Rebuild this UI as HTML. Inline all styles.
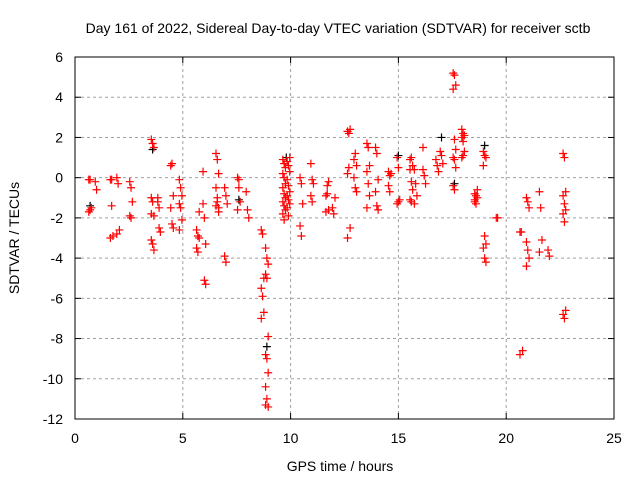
<!DOCTYPE html>
<html><head><meta charset="utf-8"><style>
html,body{margin:0;padding:0;background:#fff;}
svg{display:block;font-family:"Liberation Sans",sans-serif;}
</style></head><body>
<svg id="chart" width="640" height="480">
<text x="338" y="33" font-size="14" text-anchor="middle">Day 161 of 2022, Sidereal Day-to-day VTEC variation (SDTVAR) for receiver sctb</text>
<text x="340" y="471" font-size="14" text-anchor="middle">GPS time / hours</text>
<text transform="translate(19,238) rotate(-90)" font-size="14" text-anchor="middle">SDTVAR / TECUs</text>
<g id="grid"></g><g id="ticks"></g><g id="marks"></g>
<rect x="75" y="57" width="539" height="362" fill="none" stroke="#000" stroke-width="1"/>
</svg>
<script>
const xTicks=[0,5,10,15,20,25];
const yTicks=[6,4,2,0,-2,-4,-6,-8,-10,-12];
const clusterHours=[0.7,1.0,1.7,2.0,2.6,3.6,3.9,4.5,4.9,5.7,6.0,6.6,7.0,7.6,8.0,8.7,8.9,9.7,9.9,10.5,11.0,11.7,12.0,12.7,13.0,13.6,14.0,14.6,15.0,15.6,15.8,16.2,16.8,17.0,17.6,18.0,18.6,19.0,19.6,20.7,21.0,21.6,22.0,22.7];
const clusterValues=[
[-0.1,-0.1,-1.5,-1.7,-1.6],[-0.2,-0.6],[-0.1,-0.1,-2.9,-3.0,-1.4],[0,-0.3,-2.6,-2.8],[-0.2,-0.5,-1.2,-1.9,-2.0],
[1.9,1.7,1.5,-1.0,-1.2,-1.9,-3.1,-3.3,-3.6,-1.8],[-1.2,-2.5,-2.7,-1.0,-1.5],[0.6,0.7,-0.9,-1.5,-2.3,-2.5],
[-0.1,-0.5,-0.9,-1.3,-1.5,-2.1,-2.6],[-2.6,-2.9,-3.0,-3.5,-3.7,-1.7],[0.3,-5.1,-5.3,-1.3,-2.0,-3.3],
[1.2,0.9,0.2,-0.5,-1.2,-1.5,-1.4,-1.0,-1.7],[-0.5,-0.9,-1.3,-3.9,-4.2],[0,-0.1,-1.2,-1.6,-0.5],[-0.7,-1.6,-2.0],
[-2.6,-2.8,-5.0,-5.5,-5.9,-6.7,-7.0],[-3.5,-4.0,-4.3,-4.8,-5.0,-7.9,-8.8,-9.0,-9.7,-10.4,-11.0,-11.4,-11.3],
[0.9,0.7,0.5,0.2,0,-0.3,-0.5,-0.8,-1.0,-1.2,-1.4,-1.6,-1.8,-2.1],[0.8,0.6,0.3,-0.1,-0.4,-0.7,-0.9,-1.1,-1.3,-1.5,-1.9,1.0],
[0,-0.3,-1.3,-2.4,-2.9],[0.7,-0.1,-0.3,-0.9,-1.2],[-0.9,-0.8,-1.6,-1.7,-0.4,-0.2],[-1.5,-1.8,-1.0],
[2.3,2.2,2.4,0.2,0.5,-2.5,-3.0],[0.9,1.2,0.6,0,-0.5,-0.7],[1.7,1.5,0.6,0.3,-0.3,-0.9,-1.5],[1.5,1.2,-0.1,-0.7,-1.4,-1.6],
[0.3,0.1,0.2,-0.4,-0.7],[1.0,0.5,-1.1,-1.3,-1.2],[0.9,1.0,0.6,0.4,-0.2,-0.6,-1.1,-1.2],[0.4,-0.3,-0.9,-1.3],
[0.4,0.1,-0.3,1.5],[0.9,0.6,0.3],[1.3,1.1,0.7],[5.2,5.1,4.6,4.4,1.9,1.4,1.0,0.9,0.5,-0.4,-0.6],
[2.0,2.2,2.1,2.4,1.8,1.3,1.0,1.1],[-0.8,-0.9,-1.0,-1.2,-1.3,-0.6,-1.1],[1.3,1.1,1.0,0.6,-2.9,-3.3,-3.5,-4.0,-4.2],
[-2.0,-2.0],[-2.7,-2.7,-8.6,-8.8],[-1.0,-1.2,-1.5,-3.2,-3.6,-4.0,-4.4],[-0.7,-1.5,-3.1,-3.7],[-3.6,-3.9],
[1.2,1.0,-0.7,-0.9,-1.3,-1.6,-1.8,-2.2,-6.6,-6.8,-7.0]];
const blackHours=[0.7,3.6,7.6,8.9,9.8,17.0,17.6,19.0,15.0];
const blackValues=[-1.4,1.4,-1.1,-8.4,1.0,2.0,-0.3,1.6,1.1];

const NS="http://www.w3.org/2000/svg";
const X0=75,X1=614,Y0=419,Y1=57;
function xs(h){return X0+(h-0)/(25-0)*(X1-X0);}
function ys(v){return Y0-(v-(-12))/(6-(-12))*(Y0-Y1);}
function mk(tag,attrs,parent){const e=document.createElementNS(NS,tag);for(const k in attrs)e.setAttribute(k,attrs[k]);parent.appendChild(e);return e;}
const grid=document.getElementById('grid'),ticks=document.getElementById('ticks'),marks=document.getElementById('marks');
xTicks.forEach(t=>{const x=xs(t);
 if(t>0&&t<25){const g=mk('line',{x1:x,x2:x,y1:Y1,y2:Y0,stroke:'#a0a0a0','stroke-dasharray':'3,3'},grid);
 
 }
 mk('line',{x1:x,x2:x,y1:Y0,y2:Y0-6,stroke:'#000'},ticks);mk('line',{x1:x,x2:x,y1:Y1,y2:Y1+6,stroke:'#000'},ticks);
 const l=mk('text',{x:x,y:443,'font-size':14,'text-anchor':'middle'},ticks);l.textContent=t;
 
 });
yTicks.forEach(t=>{const y=ys(t);
 if(t>-12&&t<6){const g=mk('line',{x1:X0,x2:X1,y1:y,y2:y,stroke:'#a0a0a0','stroke-dasharray':'3,3'},grid);
 
 }
 mk('line',{x1:X0,x2:X0+6,y1:y,y2:y,stroke:'#000'},ticks);mk('line',{x1:X1,x2:X1-6,y1:y,y2:y,stroke:'#000'},ticks);
 const l=mk('text',{x:63,y:y+5,'font-size':14,'text-anchor':'end'},ticks);l.textContent=t;
 
 });
function plus(h,v,col){const x=xs(h),y=ys(v);
 const p=mk('path',{d:`M${x-4},${y}H${x+4}M${x},${y-4}V${y+4}`,stroke:col,'stroke-width':1.2,fill:'none'},marks);
 return p;}
blackHours.forEach((h,i)=>{const p=plus(h,blackValues[i],'#000');
 
 });
clusterHours.forEach((h,i)=>{clusterValues[i].forEach((v,j)=>{const p=plus(h+((j%3)-1)*0.06,v,'#ff0000');
 
 });});
</script>
</body></html>
